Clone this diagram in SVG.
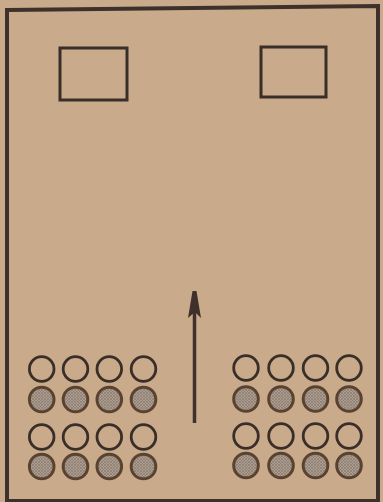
<svg xmlns="http://www.w3.org/2000/svg" width="383" height="502" viewBox="0 0 383 502">
<defs>
<pattern id="hatch" width="3" height="3" patternUnits="userSpaceOnUse">
<rect width="3" height="3" fill="#aa9c8e"/>
<path d="M0,0 L3,3 M3,0 L0,3" stroke="#8c7d70" stroke-width="0.7"/>
</pattern>
</defs>
<style>
.frame{fill:none;stroke:#3e302a;stroke-width:4}
.box{fill:none;stroke:#3a2e28;stroke-width:3}
.o{fill:none;stroke:#3a2e28;stroke-width:2.8}
.h{fill:url(#hatch);stroke:#5a4230;stroke-width:3}
.shaft{stroke:#3e302a;stroke-width:3.5;fill:none}
.head{fill:#3e302a}
</style>
<rect width="383" height="502" fill="#c9ab8b"/>
<path class="frame" d="M7,10 L378,6 L378,501 L7,501 Z"/>
<g id="box-left"><rect class="box" x="60" y="48" width="67" height="52" fill="#cbb090"/></g>
<g id="box-right"><rect class="box" x="261" y="47" width="65" height="50"/></g>
<g id="connectors">
<line class="shaft" x1="194.5" y1="296" x2="194.5" y2="423"/>
<polygon class="head" points="194.5,291 196.5,291 201,318 195,312 188,318 192.5,291"/>
</g>
<g id="group-left">
<circle class="o" cx="41.7" cy="369" r="12.3"/><circle class="o" cx="75.5" cy="369" r="12.3"/><circle class="o" cx="109.3" cy="369" r="12.3"/><circle class="o" cx="143.5" cy="369" r="12.3"/>
<circle class="h" cx="41.7" cy="399.5" r="12.3"/><circle class="h" cx="75.5" cy="399.5" r="12.3"/><circle class="h" cx="109.3" cy="399.5" r="12.3"/><circle class="h" cx="143.5" cy="399.5" r="12.3"/>
<circle class="o" cx="41.7" cy="437" r="12.3"/><circle class="o" cx="75.5" cy="437" r="12.3"/><circle class="o" cx="109.3" cy="437" r="12.3"/><circle class="o" cx="143.5" cy="437" r="12.3"/>
<circle class="h" cx="41.7" cy="466.5" r="12.3"/><circle class="h" cx="75.5" cy="466.5" r="12.3"/><circle class="h" cx="109.3" cy="466.5" r="12.3"/><circle class="h" cx="143.5" cy="466.5" r="12.3"/>
</g>
<g id="group-right">
<circle class="o" cx="246" cy="368" r="12.3"/><circle class="o" cx="281" cy="368" r="12.3"/><circle class="o" cx="315.5" cy="368" r="12.3"/><circle class="o" cx="349" cy="368" r="12.3"/>
<circle class="h" cx="246" cy="399" r="12.3"/><circle class="h" cx="281" cy="399" r="12.3"/><circle class="h" cx="315.5" cy="399" r="12.3"/><circle class="h" cx="349" cy="399" r="12.3"/>
<circle class="o" cx="246" cy="436" r="12.3"/><circle class="o" cx="281" cy="436" r="12.3"/><circle class="o" cx="315.5" cy="436" r="12.3"/><circle class="o" cx="349" cy="436" r="12.3"/>
<circle class="h" cx="246" cy="465.5" r="12.3"/><circle class="h" cx="281" cy="465.5" r="12.3"/><circle class="h" cx="315.5" cy="465.5" r="12.3"/><circle class="h" cx="349" cy="465.5" r="12.3"/>
</g>
</svg>
